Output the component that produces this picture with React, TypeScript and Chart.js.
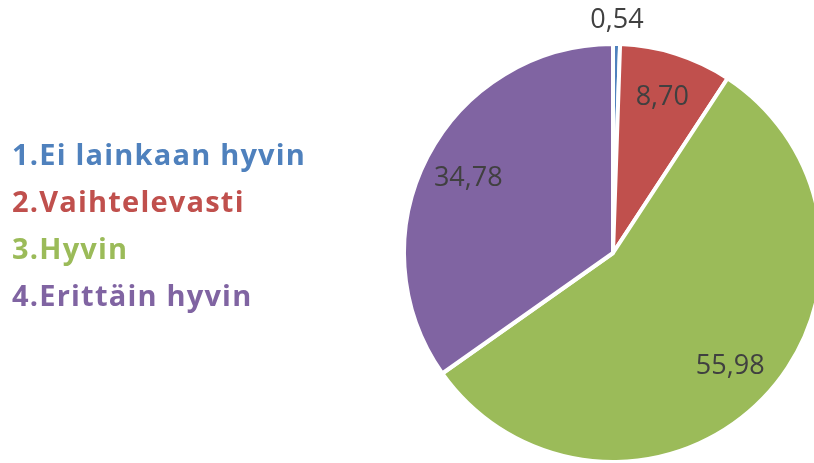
import React, { useEffect, useRef } from "react";
import { Chart, registerables } from "chart.js";

Chart.register(...registerables);

const categories = ["1.Ei lainkaan hyvin", "2.Vaihtelevasti", "3.Hyvin", "4.Erittäin hyvin"];
const values = [0.54, 8.7, 55.98, 34.78];
const colors = ["#4F81BD", "#C0504D", "#9BBB59", "#8064A2"];

const fmt = (v: number) => v.toFixed(2).replace(".", ",");

const labelPlugin = {
  id: "customLabels",
  afterDatasetsDraw(chart: any) {
    const ctx = chart.ctx;
    const meta = chart.getDatasetMeta(0);
    ctx.save();
    ctx.font = "27px 'Open Sans'";
    ctx.fillStyle = "#404040";
    ctx.textAlign = "center";
    ctx.textBaseline = "middle";
    meta.data.forEach((arc: any, i: number) => {
      const { x, y, startAngle, endAngle, outerRadius } = arc.getProps(
        ["x", "y", "startAngle", "endAngle", "outerRadius"],
        true
      );
      const mid = (startAngle + endAngle) / 2;
      const r = values[i] < 2 ? outerRadius + 24 : outerRadius * 0.78;
      ctx.fillText(fmt(values[i]), x + Math.cos(mid) * r, y + Math.sin(mid) * r);
    });
    ctx.font = "bold 29px 'Open Sans'";
    (ctx as any).letterSpacing = "1.2px";
    ctx.textAlign = "left";
    ctx.textBaseline = "alphabetic";
    categories.forEach((c, i) => {
      ctx.fillStyle = colors[i];
      ctx.fillText(c, 12, 165 + i * 47);
    });
    ctx.restore();
  },
};

export default function App() {
  const ref = useRef<HTMLCanvasElement | null>(null);
  useEffect(() => {
    if (!ref.current) return;
    const chart = new Chart(ref.current, {
      type: "pie",
      data: {
        labels: categories,
        datasets: [
          {
            data: values,
            backgroundColor: colors,
            borderColor: "#ffffff",
            borderWidth: 4,
            radius: 209,
          } as any,
        ],
      },
      options: {
        responsive: false,
        animation: false,
        layout: { padding: { left: 412, right: 0, top: 43, bottom: 0 } },
        plugins: {
          legend: { display: false },
          tooltip: { enabled: false },
        },
      },
      plugins: [labelPlugin],
    });
    return () => chart.destroy();
  }, []);
  return (
    <div
      style={{
        position: "absolute",
        left: 0,
        top: 0,
        width: 814,
        height: 463,
        overflow: "hidden",
        background: "#ffffff",
      }}
    >
      <canvas ref={ref} width={814} height={463} style={{ display: "block" }} />
    </div>
  );
}
